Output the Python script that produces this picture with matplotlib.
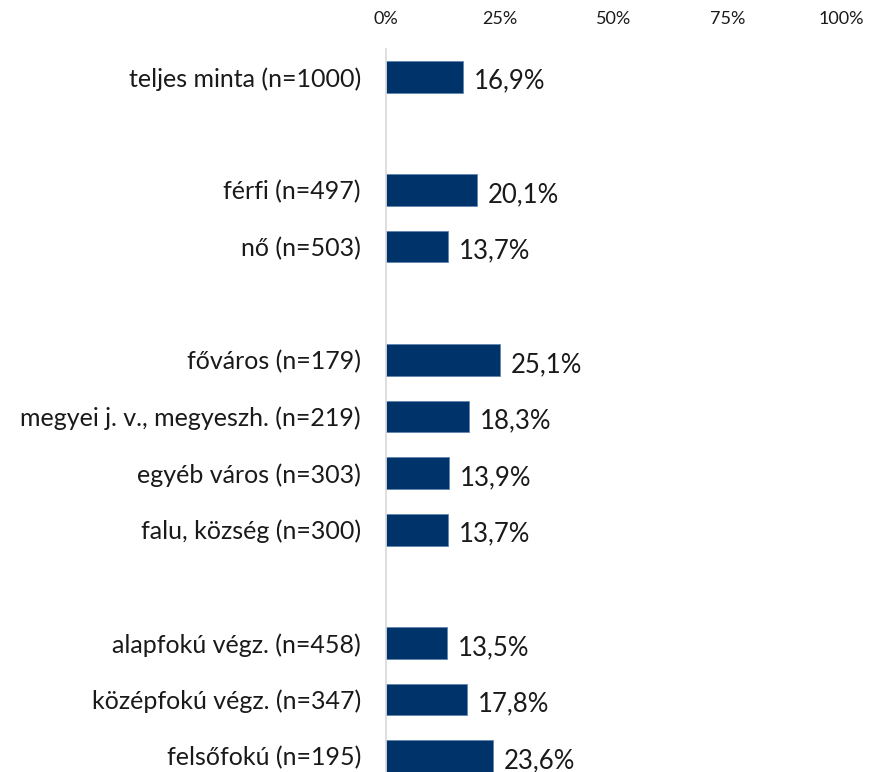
import matplotlib.pyplot as plt
from matplotlib.ticker import FuncFormatter

plt.rcParams['font.family'] = ['Lato', 'DejaVu Sans']

labels = ['teljes minta (n=1000)', 'férfi (n=497)', 'nő (n=503)',
          'főváros (n=179)', 'megyei j. v., megyeszh. (n=219)',
          'egyéb város (n=303)', 'falu, község (n=300)',
          'alapfokú végz. (n=458)', 'középfokú végz. (n=347)',
          'felsőfokú (n=195)']
values = [16.9, 20.1, 13.7, 25.1, 18.3, 13.9, 13.7, 13.5, 17.8, 23.6]
positions = [0, 2, 3, 5, 6, 7, 8, 10, 11, 12]

bar_color = '#00336a'

fig = plt.figure(figsize=(8.79, 7.72), dpi=100)
ax = fig.add_axes([386 / 879, 0, (841 - 386) / 879, 1 - 49 / 772])

ax.barh(positions, values, height=0.56, color=bar_color,
        edgecolor='#5f86b0', linewidth=0.6)

for p, v in zip(positions, values):
    ax.text(v + 2.3, p + 0.08, f'{v:.1f}%'.replace('.', ','),
            va='center', ha='left', fontsize=18.5, color='#1a1a1a')

ax.set_xlim(0, 100)
ax.set_ylim(12.28, -0.49)
ax.set_xticks([0, 25, 50, 75, 100])
ax.xaxis.set_major_formatter(FuncFormatter(lambda x, _: f'{x:.0f}%'))
ax.xaxis.tick_top()
ax.tick_params(axis='x', length=0, pad=16, labelsize=13, labelcolor='#1a1a1a')

ax.set_yticks(positions)
ax.set_yticklabels(labels)
ax.tick_params(axis='y', length=0, pad=18, labelsize=18, labelcolor='#1a1a1a')

for side in ['top', 'right', 'bottom']:
    ax.spines[side].set_visible(False)
ax.spines['left'].set_color('#d9d9d9')
ax.spines['left'].set_linewidth(1.2)

fig.savefig('out.png', dpi=100)
